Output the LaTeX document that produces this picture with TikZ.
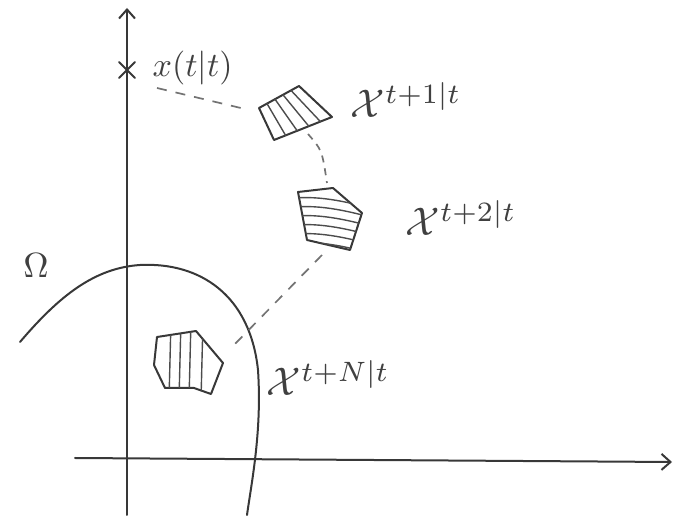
\documentclass[tikz,border=0pt]{standalone}
\usetikzlibrary{arrows.meta,calc}
\begin{document}
\begin{tikzpicture}[x=1pt,y=-1pt,
  pen/.style={draw=black!78,line width=2pt,line cap=round,line join=round},
  thin pen/.style={draw=black!70,line width=1.4pt,line cap=round},
  dashline/.style={draw=black!55,line width=1.7pt,dash pattern=on 10pt off 9pt},
  lab/.style={inner sep=0pt,text=black!75},
  setlab/.style={lab,scale=4.0}]
\useasboundingbox (0,0) rectangle (681,518);
% axes
\coordinate (yb) at (127,515);
\coordinate (yt) at (127,8);
\coordinate (xl) at (75,458);
\coordinate (xr) at (672,462);
\draw[pen,-{Straight Barb[length=9pt,width=16pt]}] (yb) -- (yt);
\draw[pen,-{Straight Barb[length=9pt,width=16pt]}] (xl) -- (xr);
% x mark
\coordinate (xm) at (127,70);
\draw[pen] ($(xm)+(-8,-8)$) -- ($(xm)+(8,8)$) ($(xm)+(-8,8)$) -- ($(xm)+(8,-8)$);
\node[lab,scale=3.4,anchor=west] (xtt) at (152,68) {$x(t|t)$};
% Omega set
\draw[pen] (20,342) .. controls (60,295) and (95,268) .. (140,265)
  .. controls (200,262) and (250,295) .. (258,370)
  .. controls (262,430) and (252,480) .. (247,515);
\node[lab,scale=3.5] (om) at (36,266) {$\Omega$};
% polygon 1
\coordinate (a1) at (259,108);
\coordinate (a2) at (299,86);
\coordinate (a3) at (332,117);
\coordinate (a4) at (274,140);
\draw[pen] (a1) -- (a2) -- (a3) -- (a4) -- cycle;
\foreach \s in {0.2,0.4,0.6,0.8}
  \draw[thin pen] ($(a1)!\s!(a2)$) -- ($(a4)!\s!(a3)$);
% polygon 2
\coordinate (b1) at (298,192);
\coordinate (b2) at (333,188);
\coordinate (b3) at (362,213);
\coordinate (b4) at (350,250);
\coordinate (b5) at (307,240);
\draw[pen] (b1) -- (b2) -- (b3) -- (b4) -- (b5) -- cycle;
\begin{scope}
\clip (b1) -- (b2) -- (b3) -- (b4) -- (b5) -- cycle;
\foreach \yy in {200,209,218,227,236,245}
  \draw[thin pen] (280,\yy) .. controls (310,\yy-6) and (340,\yy) .. (370,\yy+8);
\end{scope}
% polygon 3
\coordinate (c1) at (157,337);
\coordinate (c2) at (196,331);
\coordinate (c3) at (223,363);
\coordinate (c4) at (211,394);
\coordinate (c5) at (194,388);
\coordinate (c6) at (165,388);
\coordinate (c7) at (154,365);
\draw[pen] (c1) -- (c2) -- (c3) -- (c4) -- (c5) -- (c6) -- (c7) -- cycle;
\begin{scope}
\clip (c1) -- (c2) -- (c3) -- (c4) -- (c5) -- (c6) -- (c7) -- cycle;
\foreach \xx in {171,181,191,203}
  \draw[thin pen] (\xx,320) -- (\xx-2,400);
\end{scope}
% dashed connections
\coordinate (d0) at (157,88);
\coordinate (d1) at (245,109);
\coordinate (d2) at (308,134);
\coordinate (d3) at (327,183);
\coordinate (d4) at (322,255);
\coordinate (d5) at (233,346);
\draw[dashline] (d0) -- (d1);
\draw[dashline,dash pattern=on 7pt off 6pt] (d2) .. controls (322,150) .. (d3);
\draw[dashline] (d4) -- (d5);
% labels
\node[setlab,anchor=base west] (l1) at (350,118) {$\mathcal{X}^{t+1|t}$};
\node[setlab,anchor=base west] (l2) at (405,236) {$\mathcal{X}^{t+2|t}$};
\node[setlab,anchor=base west] (l3) at (266,396) {$\mathcal{X}^{t+N|t}$};
\end{tikzpicture}
\end{document}
